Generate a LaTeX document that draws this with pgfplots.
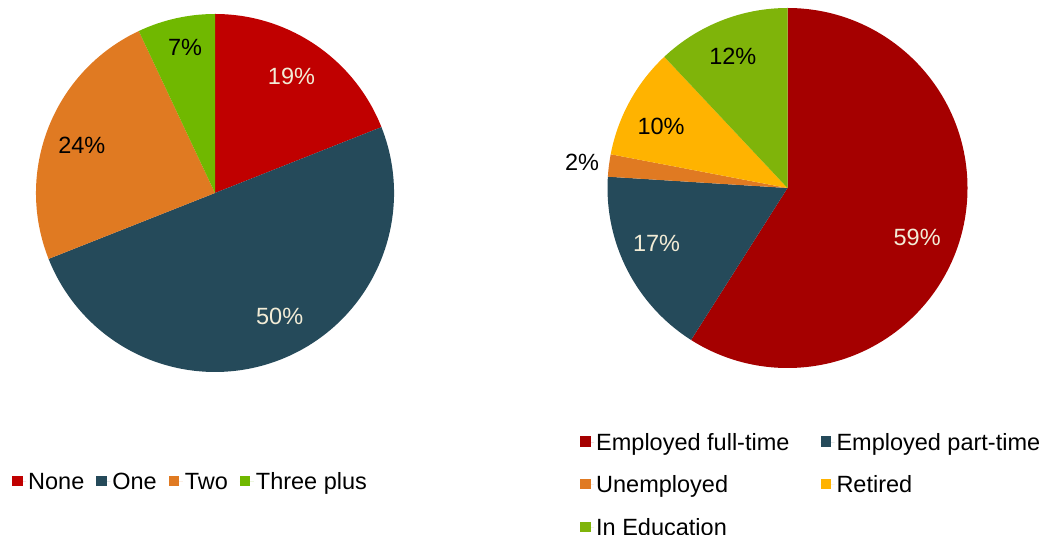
\documentclass[border=0pt]{standalone}
\usepackage{pgfplots}
\pgfplotsset{compat=1.18}
\usepackage{pgfplotstable}
\usepackage{fontspec}
\setmainfont{Liberation Sans}

\definecolor{cNone}{HTML}{C00000}
\definecolor{cOne}{HTML}{254A5A}
\definecolor{cTwo}{HTML}{E07A22}
\definecolor{cThree}{HTML}{70B800}
\definecolor{cFull}{HTML}{A50000}
\definecolor{cRet}{HTML}{FFB300}
\definecolor{cEdu}{HTML}{7FB40A}
\definecolor{cLight}{HTML}{F2ECD6}

\pgfplotstableread[col sep=comma]{
name,value,fill,txt,lr,da
None,19,cNone,cLight,0.78,-1
One,50,cOne,cLight,0.78,-6
Two,24,cTwo,black,0.79,-2
Three plus,7,cThree,black,0.83,1
}\leftdata

\pgfplotstableread[col sep=comma]{
name,value,fill,txt,lr,da
Employed full-time,59,cFull,cLight,0.77,4.5
Employed part-time,17,cOne,cLight,0.79,4
Unemployed,2,cTwo,black,1.15,0
Retired,10,cRet,black,0.78,-3
In Education,12,cEdu,black,0.79,-1
}\rightdata

\newcommand\piechart[4]{%
  \pgfplotstablegetrowsof{#1}%
  \pgfmathtruncatemacro\N{\pgfplotsretval-1}%
  \def\cum{0}%
  \pgfplotsforeachungrouped \i in {0,...,\N}{%
    \pgfplotstablegetelem{\i}{value}\of{#1}\let\v\pgfplotsretval
    \pgfplotstablegetelem{\i}{fill}\of{#1}\let\fc\pgfplotsretval
    \pgfplotstablegetelem{\i}{txt}\of{#1}\let\tc\pgfplotsretval
    \pgfplotstablegetelem{\i}{lr}\of{#1}\let\lr\pgfplotsretval
    \pgfplotstablegetelem{\i}{da}\of{#1}\let\da\pgfplotsretval
    \pgfmathsetmacro\aa{90-3.6*\cum}%
    \pgfmathsetmacro\ab{90-3.6*(\cum+\v)}%
    \pgfmathsetmacro\am{(\aa+\ab)/2-\da}%
    \pgfmathsetmacro\sx{#2+#4*cos(\aa)}%
    \pgfmathsetmacro\sy{#3+#4*sin(\aa)}%
    \pgfmathsetmacro\lx{#2+\lr*#4*cos(\am)}%
    \pgfmathsetmacro\ly{#3+\lr*#4*sin(\am)}%
    \edef\doit{\noexpand\fill[\fc] (axis cs:#2,#3) -- (axis cs:\sx,\sy) arc[start angle=\aa, end angle=\ab, radius=#4pt] -- cycle;
      \noexpand\node[text=\tc] at (axis cs:\lx,\ly) {\v\noexpand\%};}%
    \doit
    \pgfmathsetmacro\cum{\cum+\v}%
  }%
}

\pgfplotsset{
  pieaxis/.style={
    scale only axis, width=1050pt, height=535pt,
    xmin=0, xmax=1050, ymin=0, ymax=535,
    hide axis, clip=false, at={(0,0)}, anchor=origin,
    legend cell align=left,
    legend image code/.code={\fill[##1, draw=none] (0pt,-4.5pt) rectangle (10.5pt,6pt); \path[draw=none] (0pt,0pt) -- (14pt,0pt);},
  },
}

\begin{document}
\begin{tikzpicture}[font=\fontsize{23.5}{28}\selectfont]
\useasboundingbox (0,0) rectangle (1050pt,535pt);
\begin{axis}[pieaxis,
  legend columns=4,
  legend style={draw=none, fill=none, at={(axis cs:12,53)}, anchor=west, inner sep=0pt,
    nodes={inner sep=2pt, font=\fontsize{23.5}{28}\selectfont},
    /tikz/every even column/.append style={column sep=10pt}},
]
\piechart{\leftdata}{215}{342}{179}
\addlegendimage{fill=cNone}\addlegendentry{None}
\addlegendimage{fill=cOne}\addlegendentry{One}
\addlegendimage{fill=cTwo}\addlegendentry{Two}
\addlegendimage{fill=cThree}\addlegendentry{Three plus}
\end{axis}
\begin{axis}[pieaxis,
  legend columns=2,
  legend style={draw=none, fill=none, at={(axis cs:580,104)}, anchor=north west, inner sep=0pt,
    row sep=20pt,
    nodes={inner sep=2pt, font=\fontsize{23.5}{28}\selectfont},
    /tikz/every even column/.append style={column sep=29pt}},
]
\piechart{\rightdata}{787.5}{347}{180}
\addlegendimage{fill=cFull}\addlegendentry{Employed full-time}
\addlegendimage{fill=cOne}\addlegendentry{Employed part-time}
\addlegendimage{fill=cTwo}\addlegendentry{Unemployed}
\addlegendimage{fill=cRet}\addlegendentry{Retired}
\addlegendimage{fill=cEdu}\addlegendentry{In Education}
\end{axis}
\end{tikzpicture}
\end{document}
